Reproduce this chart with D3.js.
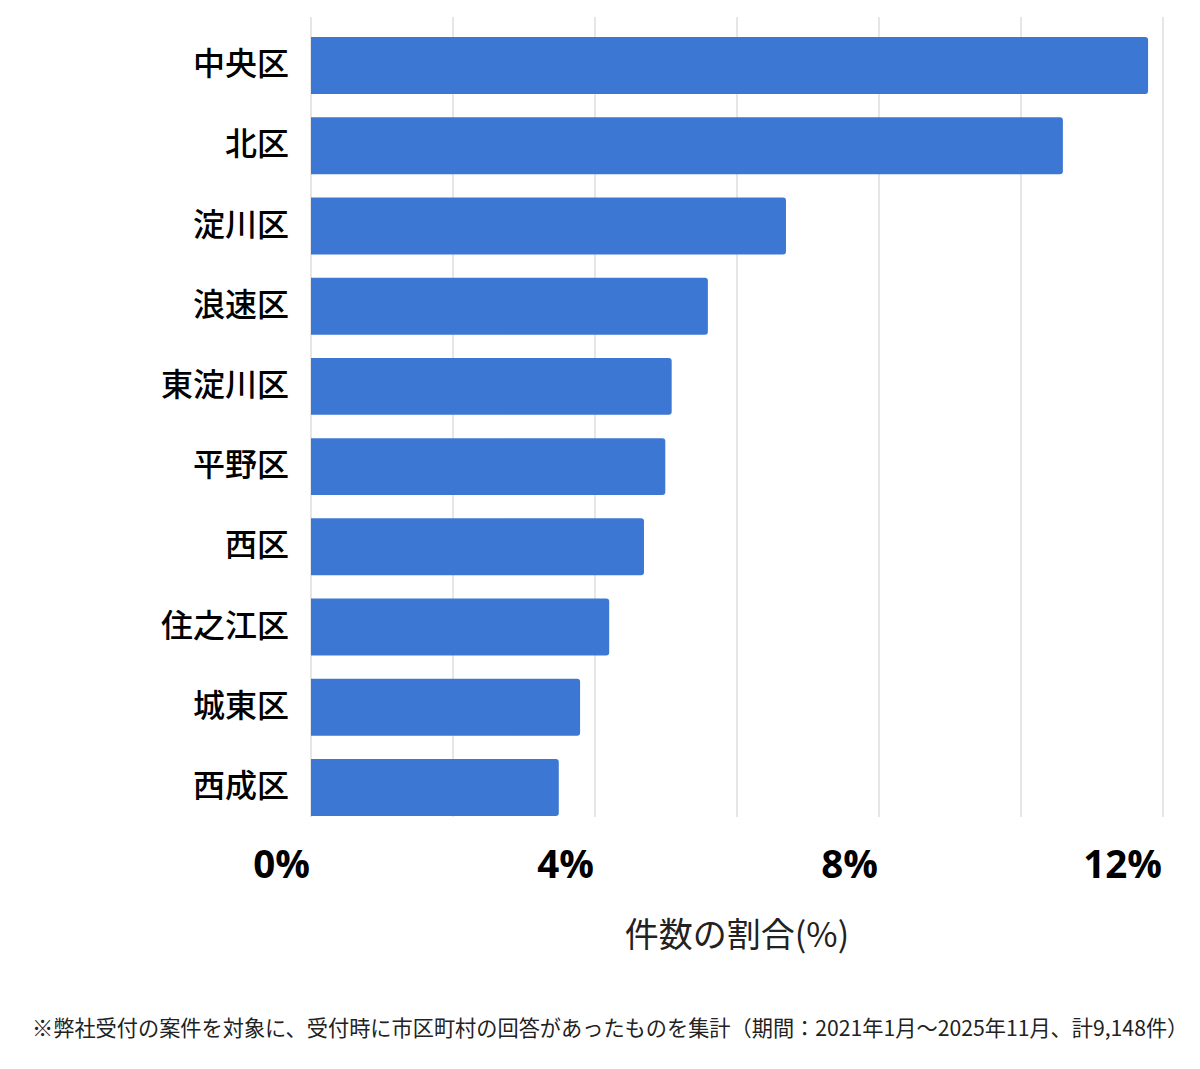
<!DOCTYPE html>
<html>
  <head>
    <meta charset="utf-8">
    <style>
      body { margin: 0; background: #fff; }
      .cat text {
        font-family: "Noto Sans CJK JP";
        font-weight: 500;
        font-size: 32px;
        fill: #000;
      }
      .tick-label {
        font-family: "Open Sans";
        font-weight: bold;
        font-size: 38.5px;
        fill: #000;
      }
      .axis-title {
        font-family: "Noto Sans CJK JP";
        font-size: 34px;
        fill: #222;
      }
      .note {
        font-family: "Noto Sans CJK JP";
        font-size: 21.2px;
        fill: #222;
      }
    </style>
  </head>
<body>
  <svg width="1200" height="1069"></svg>
  <script src="https://d3js.org/d3.v7.min.js"></script>
  <script>
    var categories = ["中央区", "北区", "淀川区", "浪速区", "東淀川区", "平野区", "西区", "住之江区", "城東区", "西成区"];
    var shares = [11.79, 10.59, 6.69, 5.59, 5.08, 4.99, 4.69, 4.20, 3.79, 3.49];
    var gridTicks = [0, 2, 4, 6, 8, 10, 12];
    var labelTicks = [0, 4, 8, 12];
    var axisTitle = "件数の割合(%)";
    var note = "※弊社受付の案件を対象に、受付時に市区町村の回答があったものを集計（期間：2021年1月～2025年11月、計9,148件）";

    var data = categories.map(function (c, i) { return {name: c, value: shares[i]}; });

    var svg = d3.select("svg");

    var x = d3.scaleLinear().domain([0, 12]).range([311, 1163]);
    var y = d3.scaleBand().domain(categories).range([37, 816]).paddingInner(0.29).paddingOuter(0);

    // gridlines
    svg.append("g").selectAll("line")
      .data(gridTicks)
      .enter()
      .append("line")
      .attr("x1", function (d) { return x(d); })
      .attr("x2", function (d) { return x(d); })
      .attr("y1", 17)
      .attr("y2", 817)
      .attr("stroke", "#d9d9d9")
      .attr("stroke-width", 1.3);

    // bars: square on the left, slightly rounded on the right
    var r = 3;
    svg.append("g").selectAll("path")
      .data(data)
      .enter()
      .append("path")
      .attr("fill", "#3c78d3")
      .attr("d", function (d) {
        var x0 = x(0), x1 = x(d.value), y0 = y(d.name), h = y.bandwidth();
        return "M" + x0 + "," + y0 +
          "H" + (x1 - r) + "Q" + x1 + "," + y0 + " " + x1 + "," + (y0 + r) +
          "V" + (y0 + h - r) + "Q" + x1 + "," + (y0 + h) + " " + (x1 - r) + "," + (y0 + h) +
          "H" + x0 + "Z";
      });

    // category labels
    svg.append("g").attr("class", "cat").selectAll("text")
      .data(data)
      .enter()
      .append("text")
      .attr("x", 289)
      .attr("y", function (d) { return y(d.name) + y.bandwidth() / 2; })
      .attr("dy", "0.3em")
      .attr("text-anchor", "end")
      .text(function (d) { return d.name; });

    // x tick labels, right aligned on their gridline
    svg.append("g").selectAll("text")
      .data(labelTicks)
      .enter()
      .append("text")
      .attr("class", "tick-label")
      .attr("x", function (d) { return x(d) - 1; })
      .attr("y", 878)
      .attr("text-anchor", "end")
      .text(function (d) { return d + "%"; });

    svg.append("text")
      .attr("class", "axis-title")
      .attr("x", (x(0) + x(12)) / 2)
      .attr("y", 947)
      .attr("text-anchor", "middle")
      .text(axisTitle);

    svg.append("text")
      .attr("class", "note")
      .attr("x", 32)
      .attr("y", 1036)
      .text(note);
  </script>
</body>
</html>
